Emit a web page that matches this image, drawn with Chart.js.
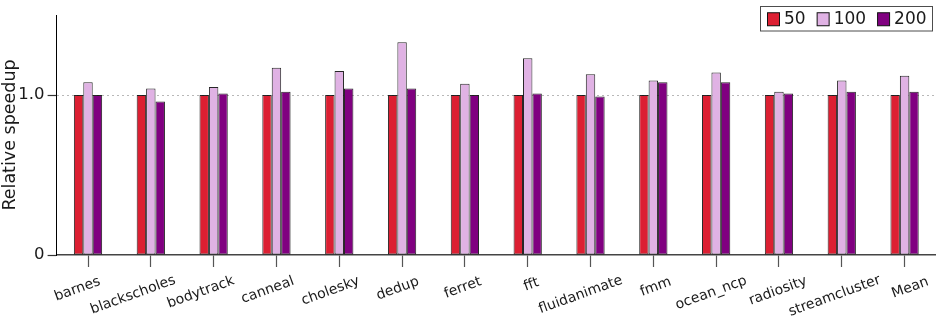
<!DOCTYPE html>
<html>
<head>
<meta charset="utf-8">
<script src="https://cdn.jsdelivr.net/npm/chart.js@4.4.1/dist/chart.umd.min.js"></script>
<style>
  html, body { margin: 0; padding: 0; background: #ffffff; }
  #wrap { width: 936px; height: 322px; }
</style>
</head>
<body>
<div id="wrap"><canvas id="c" width="936" height="322"></canvas></div>
<script>
// Benchmarks and relative speedup per configuration
const categories = ['barnes', 'blackscholes', 'bodytrack', 'canneal', 'cholesky', 'dedup', 'ferret',
                    'fft', 'fluidanimate', 'fmm', 'ocean_ncp', 'radiosity', 'streamcluster', 'Mean'];
const seriesNames = ['50', '100', '200'];
const speedup50  = [1.00, 1.00, 1.00, 1.00, 1.00, 1.00, 1.00, 1.00, 1.00, 1.00, 1.00, 1.00, 1.00, 1.00];
const speedup100 = [1.08, 1.04, 1.05, 1.17, 1.15, 1.33, 1.07, 1.23, 1.13, 1.09, 1.14, 1.02, 1.09, 1.12];
const speedup200 = [1.00, 0.96, 1.01, 1.02, 1.04, 1.04, 1.00, 1.01, 0.99, 1.08, 1.08, 1.01, 1.02, 1.02];
const yTickValues = [0, 1.0];
const yMax = 1.5;

const colors = ['#dc1f32', '#e0b2e4', '#800080'];
const FONT = '"DejaVu Sans", "Liberation Sans", sans-serif';
const TEXT = '#1a1a1a';
const SLANT = 20 * Math.PI / 180;

// Category labels, slanted 20 degrees under each tick
const slantedLabels = {
  id: 'slantedLabels',
  afterDraw(chart) {
    const xs = chart.scales.x;
    const ctx = chart.ctx;
    ctx.save();
    ctx.font = '14px ' + FONT;
    ctx.fillStyle = TEXT;
    ctx.textAlign = 'center';
    ctx.textBaseline = 'middle';
    chart.data.labels.forEach((lab, i) => {
      const px = xs.getPixelForTick(i);
      const w = ctx.measureText(lab).width;
      const cx = px - 1 + 1.1 * i - 0.2 * w;
      const cy = xs.top + 27.5 + 0.14 * w;
      ctx.save();
      ctx.translate(cx, cy);
      ctx.rotate(-SLANT);
      ctx.fillText(lab, 0, 0);
      ctx.restore();
    });
    ctx.restore();
  }
};

// Framed legend in the upper right corner
const boxedLegend = {
  id: 'boxedLegend',
  afterDraw(chart) {
    const ctx = chart.ctx;
    const left = 760.5, top = 6.5, right = 932.5, bottom = 31;
    ctx.save();
    ctx.fillStyle = '#ffffff';
    ctx.fillRect(left, top, right - left, bottom - top);
    ctx.strokeStyle = '#4d4d4d';
    ctx.lineWidth = 1;
    ctx.strokeRect(left, top, right - left, bottom - top);
    ctx.font = '17px ' + FONT;
    ctx.textBaseline = 'middle';
    ctx.textAlign = 'left';
    let x = 767;
    const cy = (top + bottom) / 2;
    chart.data.datasets.forEach(ds => {
      ctx.fillStyle = ds.backgroundColor;
      ctx.fillRect(x + 0.5, cy - 6, 12, 13);
      ctx.strokeStyle = '#111';
      ctx.strokeRect(x + 0.5, cy - 6, 12, 13);
      x += 17;
      ctx.fillStyle = TEXT;
      ctx.fillText(ds.label, x, cy + 1);
      x += ctx.measureText(ds.label).width + 11;
    });
    ctx.restore();
  }
};

const seriesValues = [speedup50, speedup100, speedup200];

new Chart(document.getElementById('c'), {
  type: 'bar',
  data: {
    labels: categories,
    datasets: seriesNames.map((name, k) => ({
      label: name,
      data: seriesValues[k],
      backgroundColor: colors[k],
      borderColor: 'rgba(0,0,0,0.85)',
      borderWidth: 1,
      borderSkipped: false,
      barPercentage: 1.0,
      categoryPercentage: 0.45
    }))
  },
  options: {
    responsive: false,
    animation: false,
    devicePixelRatio: 1,
    layout: { padding: { top: 15, right: 0, bottom: 0, left: 0 } },
    plugins: {
      legend: { display: false },
      tooltip: { enabled: false }
    },
    scales: {
      x: {
        offset: true,
        afterFit(scale) { scale.height = 67; },
        border: { display: true, color: '#444', width: 1.5 },
        grid: {
          offset: false,
          drawOnChartArea: false,
          drawTicks: true,
          tickLength: 12,
          tickColor: '#555',
          tickWidth: 1.2
        },
        ticks: { display: false }
      },
      y: {
        min: 0,
        max: yMax,
        afterFit(scale) { scale.width = 56.6; },
        afterBuildTicks(scale) { scale.ticks = yTickValues.map(v => ({ value: v })); },
        border: { display: true, color: '#000', width: 1, dash: [2, 3] },
        grid: {
          color: ctx => (ctx.tick && ctx.tick.value === 1) ? '#b8b8b8' : 'rgba(0,0,0,0)',
          lineWidth: 1,
          drawTicks: true,
          tickLength: 9,
          tickColor: '#333',
          tickWidth: 1.2,
          tickBorderDash: []
        },
        ticks: {
          padding: 3,
          color: TEXT,
          font: { family: FONT, size: 16.5 },
          callback: v => (v === 0 ? '0' : Number(v).toFixed(1))
        },
        title: {
          display: true,
          text: 'Relative speedup',
          color: TEXT,
          font: { family: FONT, size: 17.5 },
          padding: { top: 0, bottom: 0 }
        }
      }
    }
  },
  plugins: [slantedLabels, boxedLegend]
});
</script>
</body>
</html>
